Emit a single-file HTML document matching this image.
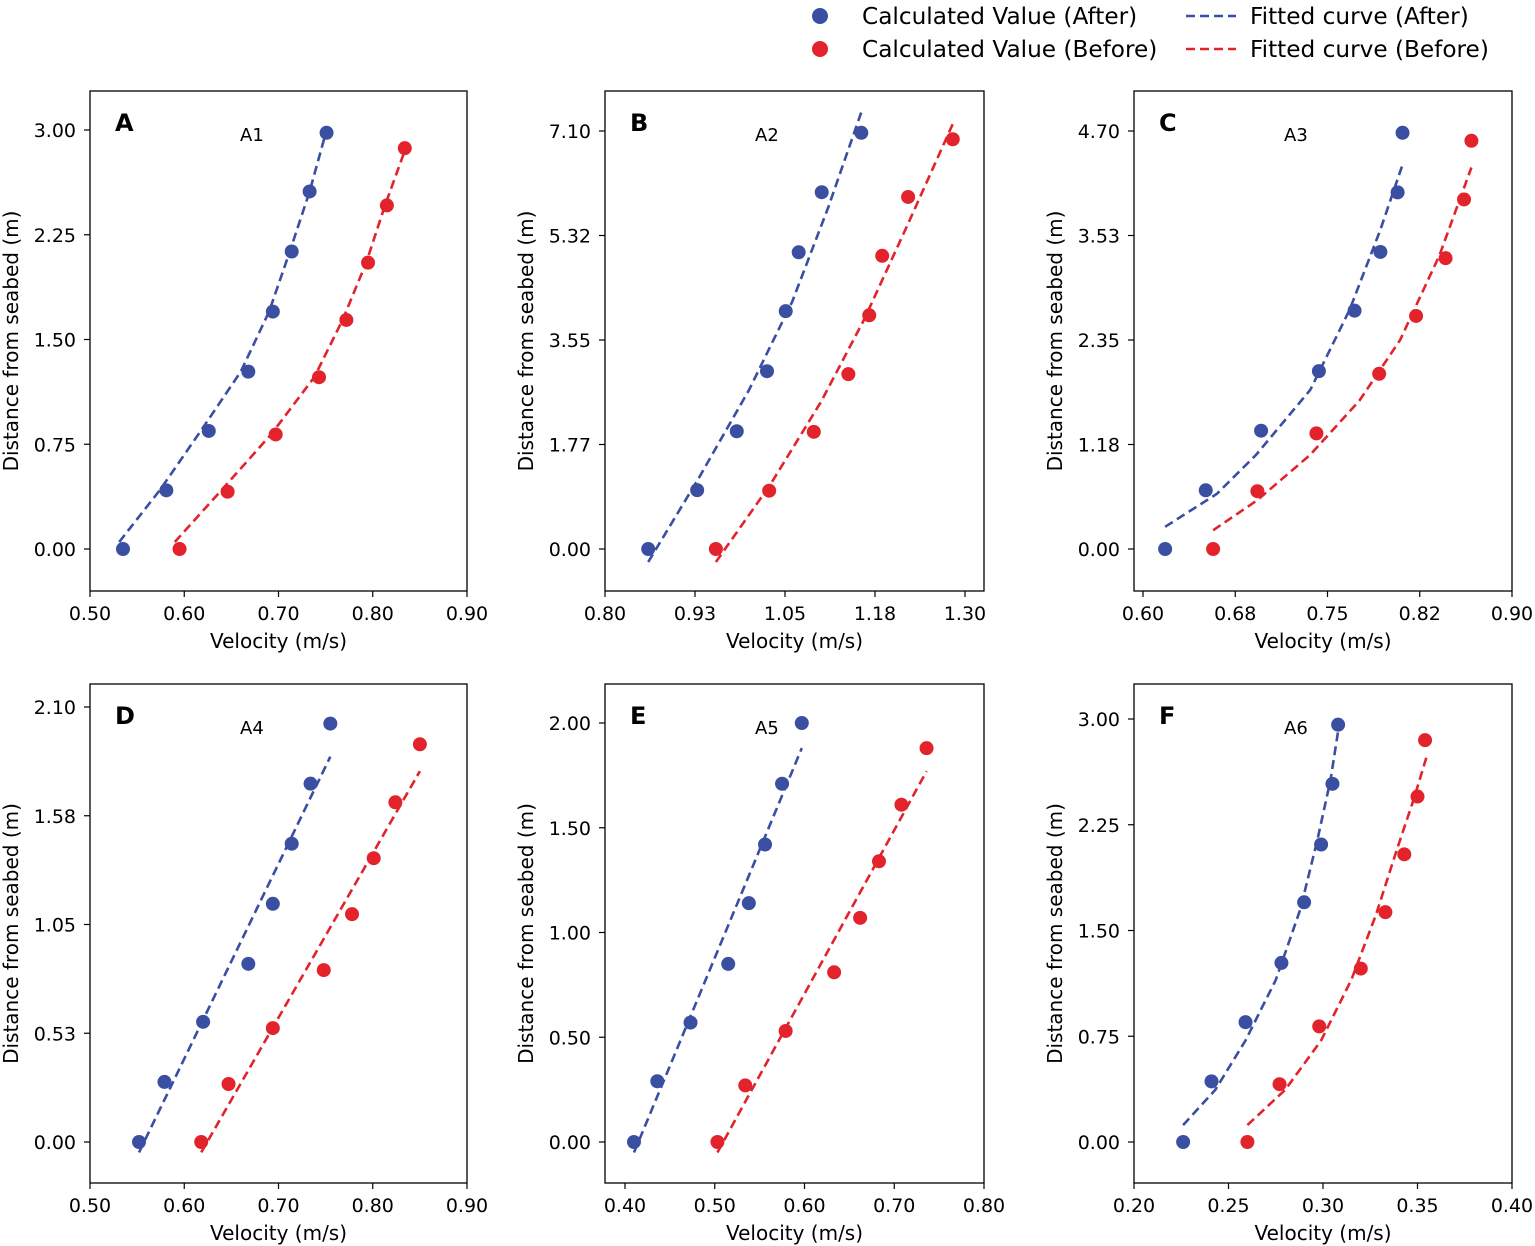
<!DOCTYPE html>
<html><head><meta charset="utf-8"><style>
body{margin:0;background:#fff;}
svg{display:block;font-family:"DejaVu Sans","Liberation Sans",sans-serif;}
</style></head><body>
<svg id="c" width="1535" height="1246" viewBox="0 0 1535 1246"></svg>
<script>
// ---- data ----
const afterA_v=[0.535,0.581,0.626,0.668,0.694,0.714,0.733,0.751];
const afterA_z=[0,0.42,0.845,1.27,1.70,2.13,2.56,2.98];
const beforeA_v=[0.595,0.646,0.697,0.743,0.772,0.795,0.815,0.834];
const beforeA_z=[0,0.41,0.82,1.23,1.64,2.05,2.46,2.87];
const fitAfterA_v=[0.531,0.574,0.618,0.660,0.690,0.712,0.733,0.751];
const fitAfterA_z=[0.05,0.42,0.85,1.27,1.70,2.13,2.56,3.0];
const fitBeforeA_v=[0.590,0.638,0.692,0.738,0.768,0.793,0.813,0.835];
const fitBeforeA_z=[0.05,0.41,0.82,1.23,1.64,2.05,2.46,2.87];

const afterB_v=[0.860,0.928,0.983,1.025,1.051,1.069,1.101,1.156];
const afterB_z=[0,1.00,2.00,3.02,4.04,5.04,6.06,7.07];
const beforeB_v=[0.954,1.028,1.090,1.138,1.167,1.185,1.221,1.283];
const beforeB_z=[0,0.99,1.99,2.97,3.97,4.98,5.98,6.96];
const fitAfterB_v=[0.860,0.930,1.000,1.060,1.110,1.156];
const fitAfterB_z=[-0.22,1.2,2.7,4.2,5.8,7.42];
const fitBeforeB_v=[0.954,1.030,1.100,1.160,1.220,1.283];
const fitBeforeB_z=[-0.22,1.1,2.5,3.9,5.5,7.22];

const afterC_v=[0.618,0.651,0.696,0.743,0.772,0.793,0.807,0.811];
const afterC_z=[0,0.66,1.33,2.00,2.68,3.34,4.01,4.68];
const beforeC_v=[0.657,0.693,0.741,0.792,0.822,0.846,0.861,0.867];
const beforeC_z=[0,0.65,1.30,1.97,2.62,3.27,3.93,4.59];
const fitAfterC_v=[0.618,0.660,0.692,0.736,0.768,0.793,0.811];
const fitAfterC_z=[0.25,0.62,1.06,1.79,2.69,3.59,4.32];
const fitBeforeC_v=[0.657,0.693,0.736,0.776,0.809,0.841,0.867];
const fitBeforeC_z=[0.21,0.55,1.06,1.67,2.35,3.30,4.29];

const afterD_v=[0.552,0.579,0.620,0.668,0.694,0.714,0.734,0.755];
const afterD_z=[0,0.29,0.58,0.86,1.15,1.44,1.73,2.02];
const beforeD_v=[0.618,0.647,0.694,0.748,0.778,0.801,0.824,0.850];
const beforeD_z=[0,0.28,0.55,0.83,1.10,1.37,1.64,1.92];
const fitAfterD_v=[0.552,0.755];
const fitAfterD_z=[-0.05,1.86];
const fitBeforeD_v=[0.618,0.850];
const fitBeforeD_z=[-0.05,1.79];

const afterE_v=[0.410,0.436,0.473,0.515,0.538,0.556,0.575,0.597];
const afterE_z=[0,0.29,0.57,0.85,1.14,1.42,1.71,2.00];
const beforeE_v=[0.503,0.534,0.579,0.633,0.662,0.683,0.708,0.736];
const beforeE_z=[0,0.27,0.53,0.81,1.07,1.34,1.61,1.88];
const fitAfterE_v=[0.410,0.597];
const fitAfterE_z=[-0.05,1.88];
const fitBeforeE_v=[0.503,0.736];
const fitBeforeE_z=[-0.05,1.77];

const afterF_v=[0.226,0.241,0.259,0.278,0.290,0.299,0.305,0.308];
const afterF_z=[0,0.43,0.85,1.27,1.70,2.11,2.54,2.96];
const beforeF_v=[0.260,0.277,0.298,0.320,0.333,0.343,0.350,0.354];
const beforeF_z=[0,0.41,0.82,1.23,1.63,2.04,2.45,2.85];
const fitAfterF_v=[0.226,0.243,0.259,0.275,0.288,0.297,0.304,0.309];
const fitAfterF_z=[0.12,0.37,0.72,1.15,1.65,2.14,2.57,3.0];
const fitBeforeF_v=[0.260,0.280,0.299,0.315,0.328,0.339,0.348,0.355];
const fitBeforeF_z=[0.12,0.37,0.72,1.15,1.61,2.07,2.43,2.74];

const xTicksA=[0.5,0.6,0.7,0.8,0.9], xLabA=["0.50","0.60","0.70","0.80","0.90"];
const yTicksA=[0,0.75,1.5,2.25,3.0], yLabA=["0.00","0.75","1.50","2.25","3.00"];
const xTicksB=[0.8,0.925,1.05,1.175,1.3], xLabB=["0.80","0.93","1.05","1.18","1.30"];
const yTicksB=[0,1.775,3.55,5.325,7.1], yLabB=["0.00","1.77","3.55","5.32","7.10"];
const xTicksC=[0.6,0.675,0.75,0.825,0.9], xLabC=["0.60","0.68","0.75","0.82","0.90"];
const yTicksC=[0,1.175,2.35,3.525,4.7], yLabC=["0.00","1.18","2.35","3.53","4.70"];
const yTicksD=[0,0.525,1.05,1.575,2.1], yLabD=["0.00","0.53","1.05","1.58","2.10"];
const xTicksE=[0.4,0.5,0.6,0.7,0.8], xLabE=["0.40","0.50","0.60","0.70","0.80"];
const yTicksE=[0,0.5,1.0,1.5,2.0], yLabE=["0.00","0.50","1.00","1.50","2.00"];
const xTicksF=[0.2,0.25,0.3,0.35,0.4], xLabF=["0.20","0.25","0.30","0.35","0.40"];
const yTicksF=[0,0.75,1.5,2.25,3.0], yLabF=["0.00","0.75","1.50","2.25","3.00"];

const BLUE="#3a4ea2", RED="#e3232b";
const NS="http://www.w3.org/2000/svg";
const svg=document.getElementById('c');
function el(tag,attrs,parent){const e=document.createElementNS(NS,tag);for(const k in attrs)e.setAttribute(k,attrs[k]);(parent||svg).appendChild(e);return e;}

const panels=[
 {L:'A',t:'A1',box:[90,91,467,591],xc:[0.5,90,0.9,467],yc:[0,549,3,130],xt:xTicksA,xl:xLabA,yt:yTicksA,yl:yLabA,
  a:[afterA_v,afterA_z],b:[beforeA_v,beforeA_z],fa:[fitAfterA_v,fitAfterA_z],fb:[fitBeforeA_v,fitBeforeA_z]},
 {L:'B',t:'A2',box:[605,91,984,591],xc:[0.8,605,1.3,965],yc:[0,549,7.1,131],xt:xTicksB,xl:xLabB,yt:yTicksB,yl:yLabB,
  a:[afterB_v,afterB_z],b:[beforeB_v,beforeB_z],fa:[fitAfterB_v,fitAfterB_z],fb:[fitBeforeB_v,fitBeforeB_z]},
 {L:'C',t:'A3',box:[1134,91,1512,591],xc:[0.6,1143,0.9,1512],yc:[0,549,4.7,131],xt:xTicksC,xl:xLabC,yt:yTicksC,yl:yLabC,
  a:[afterC_v,afterC_z],b:[beforeC_v,beforeC_z],fa:[fitAfterC_v,fitAfterC_z],fb:[fitBeforeC_v,fitBeforeC_z]},
 {L:'D',t:'A4',box:[90,684,467,1183],xc:[0.5,90,0.9,467],yc:[0,1142,2.1,707],xt:xTicksA,xl:xLabA,yt:yTicksD,yl:yLabD,
  a:[afterD_v,afterD_z],b:[beforeD_v,beforeD_z],fa:[fitAfterD_v,fitAfterD_z],fb:[fitBeforeD_v,fitBeforeD_z]},
 {L:'E',t:'A5',box:[605,684,984,1183],xc:[0.4,625,0.8,984],yc:[0,1142,2.0,723],xt:xTicksE,xl:xLabE,yt:yTicksE,yl:yLabE,
  a:[afterE_v,afterE_z],b:[beforeE_v,beforeE_z],fa:[fitAfterE_v,fitAfterE_z],fb:[fitBeforeE_v,fitBeforeE_z]},
 {L:'F',t:'A6',box:[1134,684,1512,1183],xc:[0.2,1134,0.4,1512],yc:[0,1142,3.0,719],xt:xTicksF,xl:xLabF,yt:yTicksF,yl:yLabF,
  a:[afterF_v,afterF_z],b:[beforeF_v,beforeF_z],fa:[fitAfterF_v,fitAfterF_z],fb:[fitBeforeF_v,fitBeforeF_z]},
];

panels.forEach(p=>{
  const [x0,y0,x1,y1]=p.box;
  const sx=v=>p.xc[1]+(v-p.xc[0])*(p.xc[3]-p.xc[1])/(p.xc[2]-p.xc[0]);
  const sy=v=>p.yc[1]+(v-p.yc[0])*(p.yc[3]-p.yc[1])/(p.yc[2]-p.yc[0]);
  const g=el('g',{});
  
  
  const fr=el('rect',{x:x0,y:y0,width:x1-x0,height:y1-y0,fill:'none',stroke:'#000','stroke-width':1.3},g);
  
  
  p.xt.forEach((v,i)=>{
    const x=sx(v);
    el('line',{x1:x,y1:y1,x2:x,y2:y1+6,stroke:'#000','stroke-width':1.2},g);
    const t=el('text',{x:x,y:y1+29,'text-anchor':'middle','font-size':19},g);
    t.textContent=p.xl[i];
    
    
  });
  p.yt.forEach((v,i)=>{
    const y=sy(v);
    el('line',{x1:x0-6,y1:y,x2:x0,y2:y,stroke:'#000','stroke-width':1.2},g);
    const t=el('text',{x:x0-14,y:y+7,'text-anchor':'end','font-size':19},g);
    t.textContent=p.yl[i];
    
    
  });
  const xl=el('text',{x:(x0+x1)/2,y:y1+57,'text-anchor':'middle','font-size':20},g);
  xl.textContent='Velocity (m/s)';
  
  
  const cy=(y0+y1)/2;
  const yl=el('text',{x:x0-78,y:cy,'text-anchor':'middle','font-size':20,transform:`rotate(-90 ${x0-78} ${cy})`},g);
  yl.setAttribute('dy','6');
  yl.textContent='Distance from seabed (m)';
  
  
  const lt=el('text',{x:x0+25,y:y0+40,'font-size':24,'font-weight':'bold'},g);
  lt.textContent=p.L;
  
  
  const st=el('text',{x:x0+150,y:y0+50,'font-size':18},g);
  st.textContent=p.t;
  
  
  [[p.fa,BLUE,'fit-curve-after'],[p.fb,RED,'fit-curve-before']].forEach(([f,c,n])=>{
    const pts=f[0].map((v,i)=>sx(v).toFixed(1)+','+sy(f[1][i]).toFixed(1)).join(' ');
    const l=el('polyline',{points:pts,fill:'none',stroke:c,'stroke-width':2.6,'stroke-dasharray':'9,5'},g);
    
    
  });
  [[p.a,BLUE,'point-after'],[p.b,RED,'point-before']].forEach(([d,c,n])=>{
    d[0].forEach((v,i)=>{
      const ci=el('circle',{cx:sx(v),cy:sy(d[1][i]),r:7,fill:c},g);
      
      
    });
  });
});

const lg=el('g',{});


[[16,BLUE,'Calculated Value (After)','Fitted curve (After)'],[49,RED,'Calculated Value (Before)','Fitted curve (Before)']].forEach(([y,c,a,b])=>{
  const ci=el('circle',{cx:820,cy:y,r:8,fill:c},lg);
  
  
  const t=el('text',{x:862,y:y+8,'font-size':23.2},lg);
  t.textContent=a;
  
  
  const l=el('line',{x1:1186,y1:y,x2:1236,y2:y,stroke:c,'stroke-width':2.6,'stroke-dasharray':'9,5'},lg);
  
  
  const t2=el('text',{x:1250,y:y+8,'font-size':23.2},lg);
  t2.textContent=b;
  
  
});
</script>
</body></html>
